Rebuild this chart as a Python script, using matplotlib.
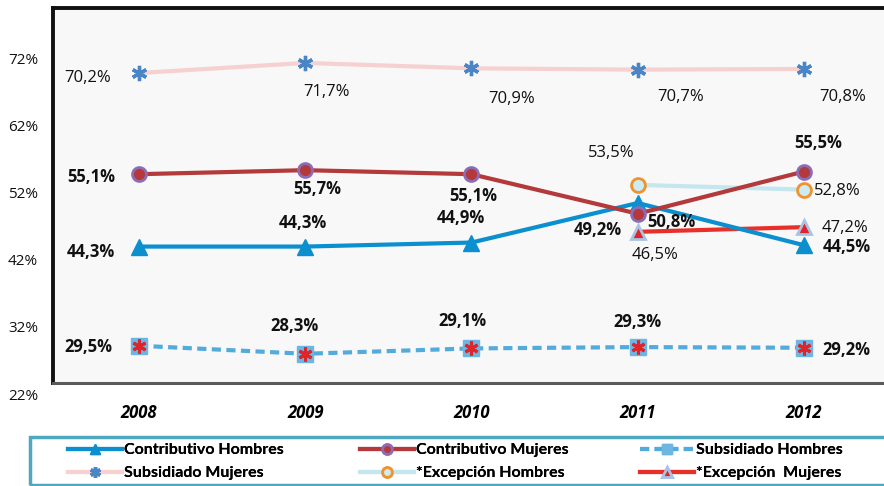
import numpy as np
import matplotlib
matplotlib.use("Agg")
import matplotlib.pyplot as plt
from matplotlib.patches import Rectangle

# ---- data ----
years = ["2008", "2009", "2010", "2011", "2012"]
contrib_hombres = [44.3, 44.3, 44.9, 50.8, 44.5]
contrib_mujeres = [55.1, 55.7, 55.1, 49.2, 55.5]
subsid_hombres = [29.5, 28.3, 29.1, 29.3, 29.2]
subsid_mujeres = [70.2, 71.7, 70.9, 70.7, 70.8]
excep_hombres = [np.nan, np.nan, np.nan, 53.5, 52.8]
excep_mujeres = [np.nan, np.nan, np.nan, 46.5, 47.2]
ytick_vals = [22, 32, 42, 52, 62, 72]

def fmt(v):
    return f"{v:.1f}".replace(".", ",") + "%"

x = np.arange(len(years))

fig = plt.figure(figsize=(8.84, 4.86), dpi=100)
fig.patch.set_facecolor("white")
ax = fig.add_axes([53 / 884, 1 - 383 / 486, 837 / 884, 375 / 486])
ax.set_facecolor("#F8F8F8")
ax.set_xlim(-0.517, 4.517)
ax.set_ylim(23.94, 79.9)

lw = 3.0
star = (6, 2, 0)
sm_line, = ax.plot(x, subsid_mujeres, color="#F7D0D0", lw=lw, marker=star,
                   ms=11, mec="#4A86C6", mew=2.4, zorder=3)
ch_line, = ax.plot(x, contrib_hombres, color="#0B8FCE", lw=lw, marker="^", ms=11,
                   mfc="#0B8FCE", mec="#0B8FCE", zorder=4)
cm_line, = ax.plot(x, contrib_mujeres, color="#B3393A", lw=lw, marker="o", ms=10,
                   mfc="#B3393A", mec="#8E6BB5", mew=2, zorder=5)
sh_line, = ax.plot(x, subsid_hombres, color="#53ABDC", lw=lw, ls=(0, (2.2, 1.3)),
                   marker="s", ms=11, mfc="#6DB5E2", mec="#6DB5E2", zorder=4)
ax.plot(x, subsid_hombres, ls="none", marker=star, ms=10, mec="#E0252A", mew=2.2, zorder=5)
eh_line, = ax.plot(x, excep_hombres, color="#C3E6EF", lw=lw, marker="o", ms=10,
                   mfc="#CDEBF3", mec="#F0922E", mew=2, zorder=3)
em_line, = ax.plot(x, excep_mujeres, color="#E8302A", lw=lw, marker="^", ms=10,
                   mfc="#E0252A", mec="#A9C3E6", mew=2, zorder=3)

# label offsets in pixels (dx, dy) and bold flag
series_labels = [
    (subsid_mujeres, [(-51, -5), (21, -29), (40, -31), (43, -27), (39, -28)], False),
    (contrib_mujeres, [(-48, -3), (12, -19), (2, -22), (-40, -16), (14, 29)], True),
    (contrib_hombres, [(-48, -5), (-2, 24), (-11, 25), (34, -19), (43, -2)], True),
    (subsid_hombres, [(-51, -1), (-11, 28), (-9, 27), (0, 25), (42, -2)], True),
    (excep_hombres, [None, None, None, (-27, 32), (33, -1)], False),
    (excep_mujeres, [None, None, None, (17, -23), (41, -1)], False),
]
for vals, offs, bold in series_labels:
    for i, (v, off) in enumerate(zip(vals, offs)):
        if off is None or np.isnan(v):
            continue
        ax.annotate(fmt(v), (x[i], v), xytext=off, textcoords="offset pixels",
                    ha="center", va="center", fontsize=12, family="Open Sans",
                    fontweight="bold" if bold else "normal", color="#111111",
                    zorder=6)

# y tick labels (22% sits below the plot frame in the original)
ax.set_yticks([])
for v in ytick_vals:
    ax.text(-15 / 837, v, f"{v}%", transform=ax.get_yaxis_transform(),
            ha="right", va="center", fontsize=11, family="Open Sans",
            color="#111111", clip_on=False)

ax.set_xticks(x)
ax.set_xticklabels(years, fontsize=12, family="Open Sans", fontweight="bold",
                   fontstyle="italic")
ax.tick_params(axis="x", length=0, pad=15)

for side in ["left", "top"]:
    ax.spines[side].set_color("#111111")
    ax.spines[side].set_linewidth(2.8)
ax.spines["bottom"].set_color("#5A5A5A")
ax.spines["bottom"].set_linewidth(2.2)
ax.spines["right"].set_visible(False)

# legend box
fig.add_artist(Rectangle((30 / 884, 1 - 485 / 486), 870 / 884, 48 / 486,
                         transform=fig.transFigure, fill=False,
                         edgecolor="#4DA8C0", lw=2.5))
legend_cols = [
    ([ch_line, sm_line], ["Contributivo Hombres", "Subsidiado Mujeres"], 68),
    ([cm_line, eh_line], ["Contributivo Mujeres", "*Excepción Hombres"], 360),
    ([sh_line, em_line], ["Subsidiado Hombres", "*Excepción  Mujeres"], 640),
]
for handles, labels, px in legend_cols:
    leg = fig.legend(handles, labels, loc="upper left",
                     bbox_to_anchor=(px / 884, 1 - 443 / 486), frameon=False,
                     prop={"family": "Lato", "weight": "bold", "size": 11.5},
                     handlelength=3.4, handletextpad=0.1, labelspacing=0.55,
                     borderpad=0, borderaxespad=0, numpoints=1, markerscale=0.7)
    fig.add_artist(leg)

fig.savefig("out.png", dpi=100, facecolor="white")
